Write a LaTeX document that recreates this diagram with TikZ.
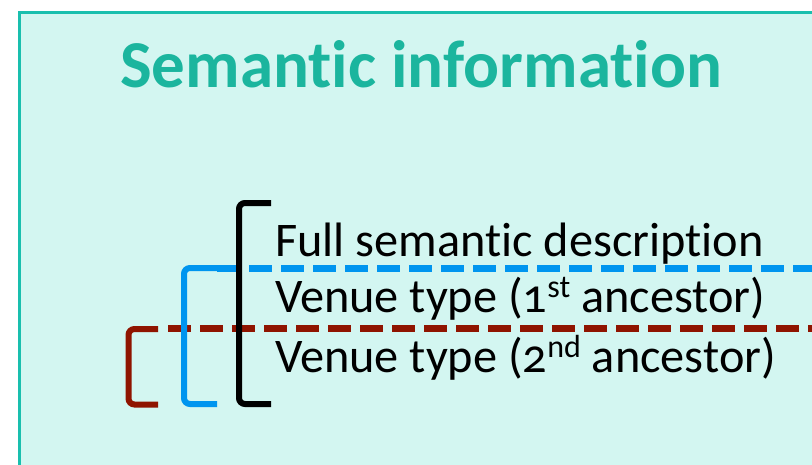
\documentclass[tikz,border=0pt]{standalone}
\usepackage{fontspec}
\setmainfont{Carlito}[Numbers=OldStyle, RawFeature={-liga;-dlig;-clig}]
\definecolor{panelfill}{HTML}{D3F6F1}
\definecolor{panelline}{HTML}{19BFAE}
\definecolor{titleteal}{HTML}{1BB59E}
\definecolor{levelone}{HTML}{0095EF}
\definecolor{leveltwo}{HTML}{8F1400}
\newcommand{\ordsup}[1]{\raisebox{15pt}{\fontsize{32}{32}\selectfont #1}}
\begin{document}
\begin{tikzpicture}[x=1pt,y=-1pt,
  bracket/.style={line width=6pt, rounded corners=6pt, line cap=butt},
  sepline/.style={line width=7pt, dash pattern=on 23pt off 9pt},
  rowtext/.style={anchor=base west, inner sep=0pt, font=\fontsize{48.3}{52}\selectfont},
  titletext/.style={anchor=base west, inner sep=0pt, text=titleteal, font=\fontsize{67}{72}\selectfont\bfseries}]
\useasboundingbox (0,0) rectangle (812,464);
\clip (0,0) rectangle (812,464);
% panel
\draw[line width=3pt, draw=panelline, fill=panelfill] (19.5,12.5) rectangle (840,490);
% title and rows
\node[titletext] (title) at (120,87) {Semantic information};
\node[rowtext] (full) at (275,256.5) {Full semantic description};
\node[rowtext] (first) at (275,312.3) {Venue type (1\ordsup{st} ancestor)};
\node[rowtext] (second) at (275,372.3) {Venue type (2\ordsup{nd} ancestor)};
% level boundaries
\coordinate (blueL) at (217,268);
\coordinate (blueR) at (830,268);
\coordinate (redL) at (168,328);
\coordinate (redR) at (830,328);
\draw[sepline, levelone] (blueL) -- (blueR);
\draw[sepline, leveltwo] (redL) -- (redR);
% brackets
\draw[bracket, black] (271,203) -- (239,203) -- (239,404) -- (271,404);
\draw[bracket, levelone] (blueL) -- (184,268) -- (184,404) -- (217,404);
\draw[bracket, leveltwo] (158,329) -- (128.5,329) -- (128.5,404.5) -- (158,404.5);
\end{tikzpicture}
\end{document}
